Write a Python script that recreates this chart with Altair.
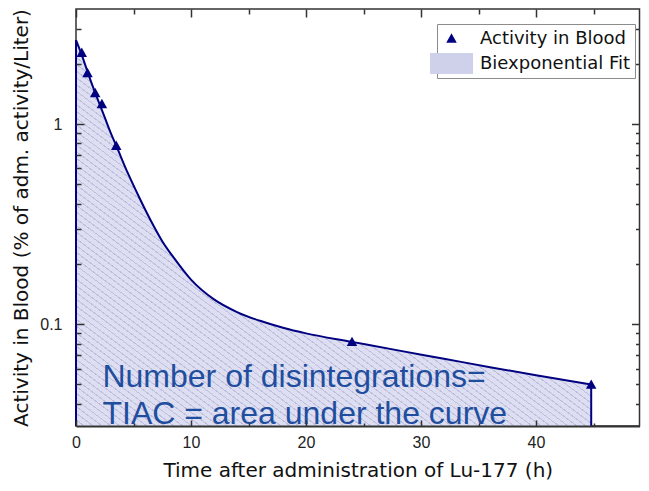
import altair as alt
import pandas as pd

# ---- data ----
fit_t = [0, 0.5, 1, 1.5, 2, 2.5, 3, 3.5, 4.5, 5.5, 6.5, 7.5, 8.5, 10, 12, 14, 16, 18, 20, 24, 28, 32, 36, 40, 44.8]
fit_v = [2.63, 2.22, 1.83, 1.52, 1.28, 1.08, 0.91, 0.78, 0.57, 0.43, 0.33, 0.26, 0.215, 0.167,
         0.133, 0.115, 0.104, 0.096, 0.090, 0.0816, 0.074, 0.0672, 0.061, 0.0556, 0.0499]
obs_t = [0.5, 1.0, 1.67, 2.25, 3.5, 24.0, 44.8]
obs_v = [2.27, 1.80, 1.43, 1.26, 0.78, 0.0816, 0.0499]
series_names = ["Activity in Blood", "Biexponential Fit"]
annotation_lines = ["Number of disintegrations=", "TIAC = area under the curve"]
annotation_t = [2.3]
annotation_v = [0.0484]
x_domain = [0, 49]
y_domain = [0.031, 3.76]
x_major = [0, 10, 20, 30, 40]
x_minor = [5, 15, 25, 35, 45]
y_major = [0.1, 1]
y_minor = [0.04, 0.05, 0.06, 0.07, 0.08, 0.09,
           0.2, 0.3, 0.4, 0.5, 0.6, 0.7, 0.8, 0.9, 2, 3]

x_title = "Time after administration of Lu-177 (h)"
y_title = "Activity in Blood (% of adm. activity/Liter)"

NAVY = "#000080"
BASE = "#dddef2"
HATCH = "#bdbedb"
AXIS = "#333333"


def hatch_gradient(n, frac=0.82):
    stops = []
    for p in range(n):
        a = p / n
        b = (p + frac) / n
        c = (p + 1) / n
        stops += [alt.GradientStop(color=BASE, offset=a), alt.GradientStop(color=BASE, offset=b),
                  alt.GradientStop(color=HATCH, offset=b), alt.GradientStop(color=HATCH, offset=c)]
    return alt.LinearGradient(gradient="linear", stops=stops, x1=0, y1=1, x2=1, y2=0)


fit_df = pd.DataFrame({"t": fit_t, "v": fit_v, "base": y_domain[0]})
obs_df = pd.DataFrame({"t": obs_t, "v": obs_v, "series": series_names[0]})
rule_df = pd.DataFrame({"t": [fit_t[0], fit_t[-1]], "v": [fit_v[0], fit_v[-1]], "base": y_domain[0]})
text_df = pd.DataFrame({"t": annotation_t, "v": annotation_v, "label": ["\n".join(annotation_lines)]})

xs = alt.Scale(domain=x_domain, nice=False, zero=False)
ys = alt.Scale(type="log", domain=y_domain, nice=False)


def tick_axis(orient, values, size):
    return alt.Axis(orient=orient, values=values, tickSize=size, offset=-size, labels=False,
                    domain=False, ticks=True, grid=False, title=None, tickColor=AXIS,
                    tickWidth=1.5, zindex=1)


x_label_axis = alt.Axis(orient="bottom", values=x_major, format="d", ticks=False, tickSize=0,
                        labelPadding=8, domain=True, domainColor=AXIS, domainWidth=2,
                        title=x_title, titleFont="DejaVu Sans", titleFontSize=20,
                        titleFontWeight="normal", titleColor="#111", titlePadding=10,
                        labelFont="Liberation Sans", labelFontSize=16, labelColor="#222",
                        grid=False, zindex=1, labelFlush=False, labelOverlap=False)
y_label_axis = alt.Axis(orient="left", values=y_major, format="~g", ticks=False, tickSize=0,
                        labelPadding=14, domain=False, title=y_title, titleFont="DejaVu Sans",
                        titleFontSize=20, titleFontWeight="normal", titleColor="#111",
                        titlePadding=8, labelFont="Liberation Sans", labelFontSize=16,
                        labelColor="#222", grid=False, zindex=1, labelFlush=False,
                        labelOverlap=False)

tri_path = "M0,-0.5L0.5,0.4L-0.5,0.4Z"
rect_path = "M-2.05,-1H2.05V1H-2.05Z"

legend = alt.Legend(title=None, orient="none", legendX=361, legendY=15, direction="vertical",
                    fillColor="white", strokeColor="#8c8c8c", padding=4,
                    symbolSize=441, symbolStrokeWidth=0, symbolOffset=0, labelOffset=18,
                    labelFont="DejaVu Sans", labelFontSize=18, labelColor="#111", rowPadding=5)

area = alt.Chart(fit_df).mark_area(color=hatch_gradient(115), interpolate="monotone").encode(
    x=alt.X("t:Q", scale=xs, axis=x_label_axis),
    y=alt.Y("v:Q", scale=ys, axis=y_label_axis),
    y2="base:Q",
)
rules = alt.Chart(rule_df).mark_rule(color=NAVY, strokeWidth=2).encode(
    x=alt.X("t:Q", scale=xs, axis=tick_axis("bottom", x_major, 6)),
    y=alt.Y("v:Q", scale=ys, axis=tick_axis("left", y_major, 8)),
    y2="base:Q",
)
line = alt.Chart(fit_df).mark_line(color=NAVY, strokeWidth=2, interpolate="monotone").encode(
    x=alt.X("t:Q", scale=xs, axis=tick_axis("bottom", x_minor, 3)),
    y=alt.Y("v:Q", scale=ys, axis=tick_axis("left", y_minor, 5)),
)
points = alt.Chart(obs_df).mark_point(filled=True, opacity=1, size=441, strokeWidth=0).encode(
    x=alt.X("t:Q", scale=xs, axis=tick_axis("top", x_major, 8)),
    y=alt.Y("v:Q", scale=ys, axis=tick_axis("right", y_major, 8)),
    color=alt.Color("series:N", scale=alt.Scale(domain=series_names, range=[NAVY, "#cfd0ea"]), legend=legend),
    shape=alt.Shape("series:N", scale=alt.Scale(domain=series_names, range=[tri_path, rect_path]), legend=legend),
)
text = alt.Chart(text_df).mark_text(align="left", baseline="alphabetic", font="Liberation Sans",
                                    fontSize=32, color="#1F4E9E", lineBreak="\n", lineHeight=37).encode(
    x=alt.X("t:Q", scale=xs, axis=tick_axis("top", x_minor, 5)),
    y=alt.Y("v:Q", scale=ys, axis=tick_axis("right", y_minor, 4)),
    text="label:N",
)

chart = alt.layer(area, rules, line, points, text).resolve_scale(
    x="shared", y="shared"
).resolve_axis(
    x="independent", y="independent"
).properties(
    width=563.5, height=417, padding={"left": 3, "top": 0, "right": 0, "bottom": 0}, background="white"
).configure_view(stroke=AXIS, strokeWidth=1.5).configure_legend(strokeWidth=1)

chart.save("out.html", embed_options={"renderer": "svg", "actions": False})
